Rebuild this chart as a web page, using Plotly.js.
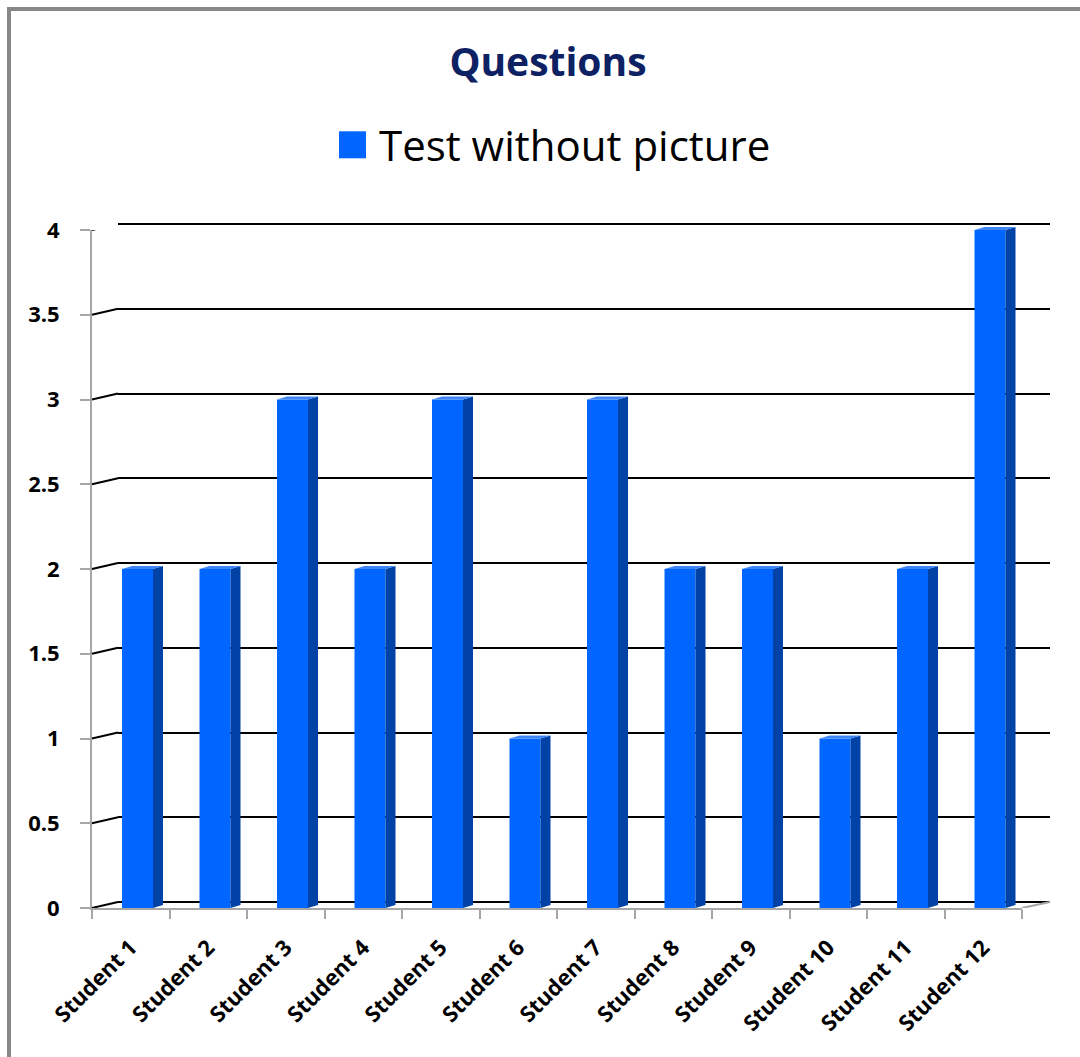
<!DOCTYPE html>
<html>
<head>
<meta charset="utf-8">
<script src="https://cdn.plot.ly/plotly-3.0.1.min.js"></script>
<style>
html,body{margin:0;padding:0;background:#fff;}
#chart{width:1080px;height:1057px;}
</style>
</head>
<body>
<div id="chart"></div>
<script>
// ---- data ----
const categories = ["Student 1","Student 2","Student 3","Student 4","Student 5","Student 6",
                    "Student 7","Student 8","Student 9","Student 10","Student 11","Student 12"];
const scores = [2, 2, 3, 2, 3, 1, 3, 2, 2, 1, 2, 4];
const seriesName = "Test without picture";
const yTicks = [0, 0.5, 1, 1.5, 2, 2.5, 3, 3.5, 4];
const chartTitle = "Questions";

// ---- geometry (pixels) ----
const W = 1080, H = 1057;
const frontL = 92, frontR = 1022, backL = 118, backR = 1050;
const frontTop = 230, frontBot = 908, backTop = 224, backBot = 902;
const paperTop = 220;
const plotW = backR - frontL, plotH = frontBot - paperTop;
const depthX = backL - frontL, depthY = frontBot - backBot;
const pxPerCat = (frontR - frontL) / categories.length;
const pxPerUnit = (frontBot - frontTop) / 4;
const pad = 3; // px of extra room so edge gridlines are drawn

// bar pieces in category units
const faceOff = -8.75 / pxPerCat, faceW = 31 / pxPerCat, sideW = 10 / pxPerCat;
const slant = 3 / pxPerUnit;

const idx = categories.map((c, i) => i);

// side and top faces of each bar (derived from the data values)
const sideX = [], sideY = [], topX = [], topY = [];
scores.forEach((v, i) => {
  const fr = i + faceOff + faceW, sr = fr + sideW, fl = i + faceOff;
  sideX.push(fr, fr, sr, sr, fr, null);
  sideY.push(0, v, v + slant, slant, 0, null);
  topX.push(fl, fr, sr, fl + sideW, fl, null);
  topY.push(v, v, v + slant, v + slant, v, null);
});

const traces = [
  { // back wall helper so its gridlines sit behind the bars
    type: 'scatter', x: [0], y: [0], xaxis: 'x', yaxis: 'y',
    mode: 'markers', marker: {opacity: 0}, showlegend: false, hoverinfo: 'skip'
  },
  {
    type: 'bar', name: seriesName, x: idx, y: scores, xaxis: 'x2', yaxis: 'y2',
    offset: faceOff, width: faceW,
    marker: {color: '#0066FF', line: {width: 0}}
  },
  {
    type: 'scatter', x: sideX, y: sideY, xaxis: 'x3', yaxis: 'y3',
    mode: 'lines', fill: 'toself', fillcolor: '#0042A6',
    line: {width: 0, color: '#0042A6'}, showlegend: false, hoverinfo: 'skip'
  },
  {
    type: 'scatter', x: topX, y: topY, xaxis: 'x3', yaxis: 'y3',
    mode: 'lines', fill: 'toself', fillcolor: '#3D85F5',
    line: {width: 0, color: '#3D85F5'}, showlegend: false, hoverinfo: 'skip'
  }
];

// left depth connectors for each gridline + right floor edge
const shapes = [];
yTicks.forEach(v => {
  shapes.push({type: 'line', xref: 'paper', yref: 'y2',
    x0: 0, y0: v, x1: depthX / plotW, y1: v + depthY / pxPerUnit,
    line: {color: '#000000', width: 2}});
});
shapes.push({type: 'line', xref: 'paper', yref: 'y2',
  x0: (frontR - frontL) / plotW, y0: 0, x1: 1, y1: depthY / pxPerUnit,
  line: {color: '#A6A6A6', width: 2}});
// outer chart frame
shapes.push({type: 'rect', xref: 'paper', yref: 'paper', layer: 'below',
  x0: (9 - frontL) / plotW, x1: 2, y0: -2, y1: (frontBot - 9) / plotH,
  line: {color: '#888888', width: 4}, fillcolor: 'rgba(0,0,0,0)'});

const frontXDomain = [0, (frontR - frontL) / plotW];
const xRange = [-0.5, categories.length - 0.5];
const boldTick = {size: 22, family: 'Open Sans', weight: 'bold', color: '#000'};

const layout = {
  width: W, height: H,
  margin: {l: frontL, r: W - backR, t: paperTop, b: H - frontBot},
  paper_bgcolor: '#ffffff', plot_bgcolor: 'rgba(0,0,0,0)',
  font: {family: 'Open Sans, sans-serif', color: '#000'},
  title: {text: '<b>' + chartTitle + '</b>', font: {size: 39, color: '#0E2163', family: 'Open Sans'},
    x: 548 / W, xanchor: 'center', xref: 'container',
    y: 1 - 62 / H, yanchor: 'middle', yref: 'container'},
  showlegend: true,
  legend: {orientation: 'h', xref: 'container', yref: 'container',
    x: 339 / W, xanchor: 'left', y: 1 - 145 / H, yanchor: 'middle',
    font: {size: 42, family: 'Open Sans', color: '#000'}, bgcolor: 'rgba(0,0,0,0)'},
  xaxis: {domain: [depthX / plotW, 1], range: xRange,
    visible: false, fixedrange: true},
  yaxis: {domain: [(depthY - pad) / plotH, 1 - (backTop - paperTop - pad) / plotH],
    range: [-pad / pxPerUnit, 4 + pad / pxPerUnit], anchor: 'x',
    tickvals: yTicks, showgrid: true, gridcolor: '#000000', gridwidth: 2,
    zeroline: false, showline: false, showticklabels: false, ticks: '', fixedrange: true},
  xaxis2: {domain: frontXDomain, range: xRange,
    anchor: 'y2', showgrid: false, zeroline: false,
    showline: true, linecolor: '#A6A6A6', linewidth: 2,
    tickmode: 'array', tickvals: idx, ticktext: categories, ticks: '',
    tickangle: -45, ticklabelstandoff: 16,
    tickfont: {size: 22, family: 'Open Sans', weight: 'bold', color: '#000'},
    minor: {tickmode: 'array', tickvals: categories.map((c, i) => i - 0.5).concat([categories.length - 0.5]),
      ticks: 'outside', ticklen: 9, tickcolor: '#A6A6A6', tickwidth: 2, showgrid: false},
    fixedrange: true},
  yaxis2: {domain: [0, (frontBot - frontTop) / plotH], range: [0, 4], anchor: 'x2',
    tickvals: yTicks, ticktext: yTicks.map(String), showgrid: false, zeroline: false,
    showline: true, linecolor: '#A6A6A6', linewidth: 2,
    ticks: 'outside', ticklen: 10, tickcolor: '#A6A6A6', tickwidth: 2,
    ticklabelstandoff: 16, tickfont: boldTick, fixedrange: true},
  // same scale as the front axes, taller domain so bar tops are not clipped
  xaxis3: {domain: frontXDomain, range: xRange, anchor: 'y3', visible: false, fixedrange: true},
  yaxis3: {domain: [0, 1], range: [0, plotH / pxPerUnit], anchor: 'x3', visible: false, fixedrange: true},
  shapes: shapes
};

Plotly.newPlot('chart', traces, layout, {displayModeBar: false, staticPlot: true}).then(() => {
  // enlarge the legend swatch to match the reference
  document.querySelectorAll('.legendpoints path').forEach(p => {
    p.setAttribute('d', 'M13.5,13.5H-13.5V-13.5H13.5Z');
    p.setAttribute('transform', 'translate(13.5,0)');
  });
});
</script>
</body>
</html>
